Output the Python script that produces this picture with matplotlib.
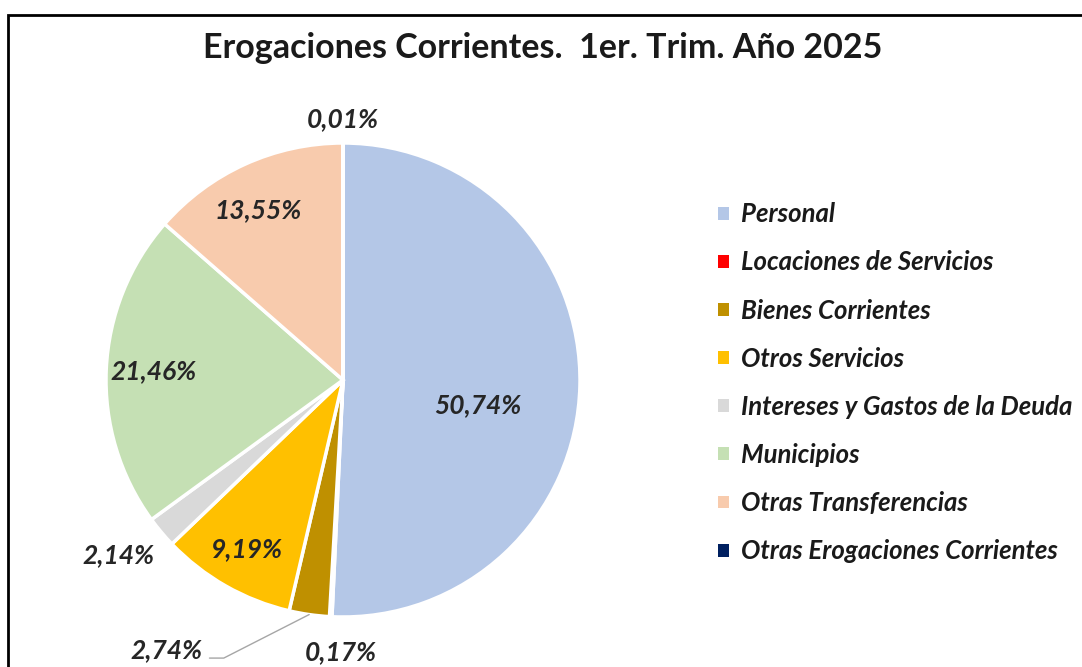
import numpy as np
import matplotlib
matplotlib.use("Agg")
from matplotlib import pyplot as plt
from matplotlib.patches import Rectangle

categorias = ["Personal", "Locaciones de Servicios", "Bienes Corrientes",
              "Otros Servicios", "Intereses y Gastos de la Deuda", "Municipios",
              "Otras Transferencias", "Otras Erogaciones Corrientes"]
porcentajes = [50.74, 0.17, 2.74, 9.19, 2.14, 21.46, 13.55, 0.01]
colores = ["#B4C7E7", "#FF0000", "#BF9000", "#FFC000", "#D9D9D9",
           "#C5E0B4", "#F8CBAD", "#002060"]
etiquetas = [("%.2f%%" % p).replace(".", ",") for p in porcentajes]

# distancia radial de cada etiqueta (en radios) y ajuste de angulo en grados
dist_etq = [0.58, 1.15, 1.36, 0.82, 1.2, 0.8, 0.8, 1.1]
ajuste_ang = [-9, 2.5, -25, 0, -2, 0, 2, 0]

plt.rcParams['font.family'] = ['Lato', 'DejaVu Sans']

W, H = 1082, 667
fig = plt.figure(figsize=(W / 100, H / 100), dpi=100)
ax = fig.add_axes([0, 0, 1, 1])
ax.set_axis_off()

cx, cy, R = 343, H - 380, 237
wedges, _ = ax.pie(porcentajes, colors=colores, startangle=90, counterclock=False,
                   center=(cx, cy), radius=R,
                   wedgeprops=dict(edgecolor="white", linewidth=2.5))
ax.set_xlim(0, W)
ax.set_ylim(0, H)
ax.set_aspect("equal")

estilo = dict(ha="center", va="center", fontsize=19, fontweight="bold",
              fontstyle="italic", color="#262626")
for i, w in enumerate(wedges):
    mid = 0.5 * (w.theta1 + w.theta2)
    ang = np.deg2rad(mid + ajuste_ang[i])
    tx = cx + dist_etq[i] * R * np.cos(ang)
    ty = cy + dist_etq[i] * R * np.sin(ang)
    if categorias[i] == "Bienes Corrientes":
        ex = cx + R * np.cos(np.deg2rad(mid))
        ey = cy + R * np.sin(np.deg2rad(mid))
        ax.annotate(etiquetas[i], xy=(ex, ey), xytext=(tx, ty), **estilo,
                    arrowprops=dict(arrowstyle="-", color="#A6A6A6", lw=1,
                                    relpos=(1, 0.15), shrinkA=3, shrinkB=0,
                                    connectionstyle="angle,angleA=0,angleB=27,rad=0"))
    else:
        ax.text(tx, ty, etiquetas[i], **estilo)

fig.text(543 / W, 1 - 48 / H, "Erogaciones Corrientes.  1er. Trim. Año 2025",
         ha="center", va="center", fontsize=24.5, fontweight="bold", color="#1a1a1a")

leg = fig.legend(wedges, categorias, loc="upper left",
                 bbox_to_anchor=(708 / W, 1 - 192 / H), frameon=False,
                 prop=dict(size=18.5, weight="bold", style="italic"),
                 handlelength=0.4, handleheight=0.4, handletextpad=0.5,
                 labelspacing=0.94, borderaxespad=0)
for t in leg.get_texts():
    t.set_color("#1a1a1a")
for h in leg.legend_handles:
    h.set_linewidth(0)

fig.patches.append(Rectangle((8 / W, -0.1), 1.2, 1 - 15 / H + 0.1,
                             transform=fig.transFigure, fill=False,
                             edgecolor="black", linewidth=2))

fig.savefig("out.png", dpi=100)
